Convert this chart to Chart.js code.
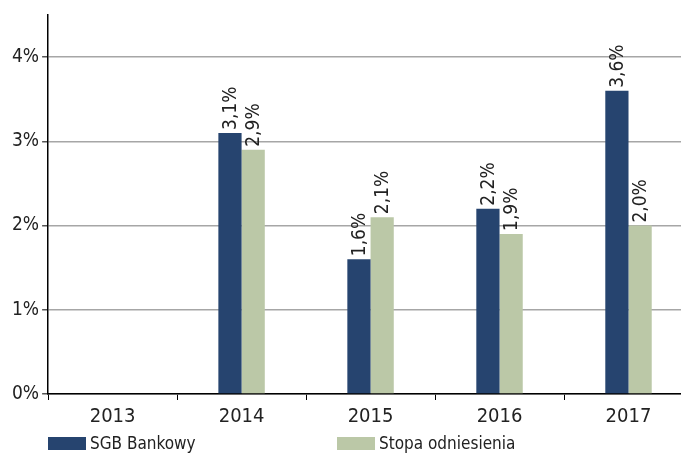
<!DOCTYPE html>
<html>
<head>
<meta charset="utf-8">
<script src="https://cdn.jsdelivr.net/npm/chart.js@4"></script>
<style>
  html, body { margin: 0; padding: 0; background: #fff; overflow: hidden; width: 681px; height: 455px; }
  #wrap { position: relative; width: 681px; height: 455px; }
  #chart { position: absolute; left: 0; top: 0; }
  .leg { position: absolute; top: 434px; font-family: "DejaVu Sans Condensed", sans-serif; font-size: 17px; color: #222; white-space: nowrap; }
  .leg span.box { position: absolute; top: 3px; width: 38px; height: 13px; }
  .leg span.txt { position: absolute; top: -1px; }
</style>
</head>
<body>
<div id="wrap">
  <canvas id="chart" width="693" height="434" style="width:693px;height:434px"></canvas>
  <div id="legend"></div>
</div>
<script>
const FONT = '"DejaVu Sans Condensed", sans-serif';

const annees = ['2013', '2014', '2015', '2016', '2017'];
const sgbBankowy = [null, 3.1, 1.6, 2.2, 3.6];
const stopaOdniesienia = [null, 2.9, 2.1, 1.9, 2.0];
const noms = ['SGB Bankowy', 'Stopa odniesienia'];
const couleurs = ['#26446f', '#bbc8a7'];

function fmt(v) {
  return v.toFixed(1).replace('.', ',') + '%';
}

// étiquettes verticales au-dessus des barres
const etiquettes = {
  id: 'etiquettes',
  afterDatasetsDraw(chart) {
    const ctx = chart.ctx;
    chart.data.datasets.forEach((ds, i) => {
      const meta = chart.getDatasetMeta(i);
      meta.data.forEach((bar, j) => {
        const v = ds.data[j];
        if (v == null) return;
        ctx.save();
        ctx.translate(bar.x + 1, bar.y - 3);
        ctx.rotate(-Math.PI / 2);
        ctx.font = '19px ' + FONT;
        ctx.fillStyle = '#222';
        ctx.textAlign = 'left';
        ctx.textBaseline = 'middle';
        ctx.fillText(fmt(v), 0, 0);
        ctx.restore();
      });
    });
  }
};

const data = {
  labels: annees,
  datasets: [
    { label: noms[0], data: sgbBankowy, backgroundColor: couleurs[0] },
    { label: noms[1], data: stopaOdniesienia, backgroundColor: couleurs[1] }
  ]
};

const config = {
  type: 'bar',
  data: data,
  options: {
    responsive: false,
    animation: false,
    devicePixelRatio: 1,
    layout: { padding: { left: 9, top: 15, right: 0, bottom: 0 } },
    datasets: { bar: { categoryPercentage: 0.36, barPercentage: 1 } },
    plugins: {
      legend: { display: false },
      tooltip: { enabled: false }
    },
    scales: {
      x: {
        grid: { offset: true, drawOnChartArea: false, drawTicks: true, tickLength: 6, color: '#000' },
        border: { color: '#000', width: 1.5 },
        ticks: { color: '#222', font: { family: FONT, size: 20 }, padding: 5 }
      },
      y: {
        min: 0,
        max: 4.5,
        afterBuildTicks(scale) {
          scale.ticks = scale.ticks.filter(t => Number.isInteger(t.value));
        },
        grid: { color: '#a6a6a6', lineWidth: 1.5, tickLength: 6, tickColor: '#555' },
        border: { color: '#000', width: 1.5 },
        ticks: { stepSize: 1, color: '#222', font: { family: FONT, size: 19 }, padding: 3,
          callback: v => v + '%' }
      }
    }
  },
  plugins: [etiquettes]
};

const pie = new Chart(document.getElementById('chart'), config);

// légende en bas, alignée comme l'original
const positions = [48, 337];
const leg = document.getElementById('legend');
noms.forEach((n, i) => {
  const d = document.createElement('div');
  d.className = 'leg';
  d.style.left = positions[i] + 'px';
  d.innerHTML = '<span class="box" style="left:0;background:' + couleurs[i] + '"></span>' +
    '<span class="txt" style="left:42px">' + n + '</span>';
  leg.appendChild(d);
});
</script>
</body>
</html>
